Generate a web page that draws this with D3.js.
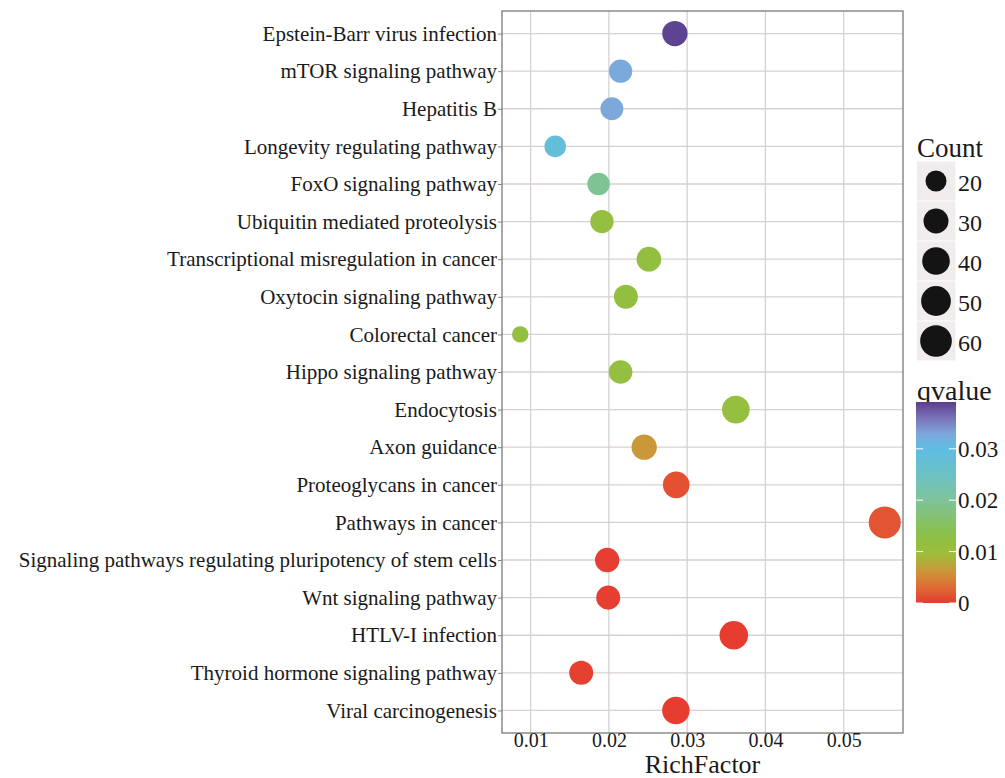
<!DOCTYPE html>
<html>
<head>
<meta charset="utf-8">
<script src="https://cdn.jsdelivr.net/npm/d3@7"></script>
<style>
  body { margin: 0; background: #fff; }
  text { font-family: "Liberation Serif", "Times New Roman", serif; fill: #1a1a1a; }
</style>
</head>
<body>
<script>
// KEGG enrichment data, top to bottom
const pathways = [
  'Epstein-Barr virus infection', 'mTOR signaling pathway', 'Hepatitis B',
  'Longevity regulating pathway', 'FoxO signaling pathway', 'Ubiquitin mediated proteolysis',
  'Transcriptional misregulation in cancer', 'Oxytocin signaling pathway', 'Colorectal cancer',
  'Hippo signaling pathway', 'Endocytosis', 'Axon guidance', 'Proteoglycans in cancer',
  'Pathways in cancer', 'Signaling pathways regulating pluripotency of stem cells',
  'Wnt signaling pathway', 'HTLV-I infection', 'Thyroid hormone signaling pathway',
  'Viral carcinogenesis'
]
const richFactor = [0.02843, 0.02149, 0.02038, 0.01314, 0.01868, 0.01911, 0.02511, 0.02217, 0.00867,
  0.02149, 0.03622, 0.02451, 0.02860, 0.05525, 0.01978, 0.01991, 0.03596, 0.01646, 0.02856]
const counts = [31, 25, 24, 21, 23, 25, 29, 27, 16, 26, 40, 31, 36, 62, 28, 27, 44, 27, 39]
const qvalues = [0.0388, 0.0326, 0.0328, 0.0282, 0.0195, 0.0114, 0.0117, 0.0117, 0.0114, 0.0115,
  0.0113, 0.0062, 0.0014, 0.0016, 0.0002, 0.0002, 0.0001, 0.0003, 0.0001]

const xTicks = [0.01, 0.02, 0.03, 0.04, 0.05]
const countBreaks = [20, 30, 40, 50, 60]
const qTicks = [0, 0.01, 0.02, 0.03]

const data = pathways.map((p, i) => ({ term: p, x: richFactor[i], count: counts[i], q: qvalues[i] }))

const width = 1005, height = 778
const panel = { left: 502, right: 903, top: 11, bottom: 733 }

const svg = d3.select('body').append('svg')
  .attr('width', width)
  .attr('height', height)

// scales
const ext = d3.extent(richFactor)
const pad = (ext[1] - ext[0]) * 0.05
const x = d3.scaleLinear().domain([ext[0] - pad, ext[1] + pad]).range([panel.left, panel.right])
const y = d3.scalePoint().domain(pathways).range([panel.top, panel.bottom]).padding(0.6)

const cMin = d3.min(counts), cMax = d3.max(counts)
const rScale = d3.scaleSqrt().domain([0, cMax - cMin]).range([8.2, 16])
const radius = c => rScale(c - cMin)

const qMax = 0.0391
const qStops = [0, 0.003, 0.006, 0.0095, 0.013, 0.02, 0.025, 0.03, 0.033, 0.036, qMax]
const qColors = ['#e63b30', '#df6a34', '#cd9539', '#9ebd3b', '#8cc045', '#7ec39a', '#6cc1c3',
  '#5ebde6', '#7ea6da', '#7a72b8', '#5b3e8c']
const color = d3.scaleLinear().domain(qStops).range(qColors).clamp(true)

// panel background + grid
svg.append('rect')
  .attr('x', panel.left).attr('y', panel.top)
  .attr('width', panel.right - panel.left).attr('height', panel.bottom - panel.top)
  .attr('fill', '#fff')

const grid = svg.append('g').attr('stroke', '#d8d1d1').attr('stroke-width', 1.3)
grid.selectAll('.vg').data(xTicks).enter().append('line')
  .attr('x1', d => x(d)).attr('x2', d => x(d))
  .attr('y1', panel.top).attr('y2', panel.bottom)
grid.selectAll('.hg').data(pathways).enter().append('line')
  .attr('x1', panel.left).attr('x2', panel.right)
  .attr('y1', d => y(d)).attr('y2', d => y(d))

// points
svg.append('g').selectAll('circle')
  .data(data)
  .enter()
  .append('circle')
  .attr('cx', d => x(d.x))
  .attr('cy', d => y(d.term))
  .attr('r', d => radius(d.count))
  .attr('fill', d => color(d.q))

// border
svg.append('rect')
  .attr('x', panel.left).attr('y', panel.top)
  .attr('width', panel.right - panel.left).attr('height', panel.bottom - panel.top)
  .attr('fill', 'none').attr('stroke', '#7a7a7a').attr('stroke-width', 1.3)

// axes
const xAxis = svg.append('g')
  .attr('transform', `translate(0,${panel.bottom})`)
  .call(d3.axisBottom(x).tickValues(xTicks).tickSize(4).tickPadding(-4).tickFormat(d3.format('.2f')))
xAxis.select('.domain').remove()
xAxis.selectAll('line').attr('stroke', '#808080')
xAxis.selectAll('text').attr('font-size', 20).attr('font-family', 'Liberation Serif').attr('fill', '#1a1a1a')

const yAxis = svg.append('g')
  .attr('transform', `translate(${panel.left},0)`)
  .call(d3.axisLeft(y).tickSize(4).tickPadding(1))
yAxis.select('.domain').remove()
yAxis.selectAll('line').attr('stroke', '#808080')
yAxis.selectAll('text').attr('font-size', 21).attr('font-family', 'Liberation Serif').attr('fill', '#1a1a1a')

svg.append('text')
  .attr('x', (panel.left + panel.right) / 2)
  .attr('y', 772.5)
  .attr('text-anchor', 'middle')
  .attr('font-size', 26)
  .text('RichFactor')

// Count legend
const lg = svg.append('g').attr('transform', 'translate(917, 0)')
lg.append('text').attr('x', 0).attr('y', 157).attr('font-size', 27).text('Count')
const keys = lg.selectAll('.key').data(countBreaks).enter().append('g')
  .attr('transform', (d, i) => `translate(0, ${161.5 + i * 40})`)
keys.append('rect')
  .attr('width', 38.5).attr('height', 39)
  .attr('fill', '#f1eded')
keys.append('circle')
  .attr('cx', 19).attr('cy', 19.5)
  .attr('r', d => radius(d))
  .attr('fill', '#141414')
keys.append('text')
  .attr('x', 41).attr('y', 29)
  .attr('font-size', 24)
  .text(d => d)

// qvalue colorbar
const barTop = 402, barBottom = 603, barX = 916, barW = 40
const qy = d3.scaleLinear().domain([0, qMax]).range([barBottom, barTop])
svg.append('text').attr('x', 917).attr('y', 400).attr('font-size', 28).text('qvalue')

const grad = svg.append('defs').append('linearGradient')
  .attr('id', 'qgrad').attr('x1', 0).attr('y1', 1).attr('x2', 0).attr('y2', 0)
grad.selectAll('stop').data(d3.range(0, 1.0001, 0.02)).enter().append('stop')
  .attr('offset', d => d)
  .attr('stop-color', d => color(d * qMax))
svg.append('rect')
  .attr('x', barX).attr('y', barTop)
  .attr('width', barW).attr('height', barBottom - barTop)
  .attr('fill', 'url(#qgrad)')

const qt = svg.append('g').selectAll('g').data(qTicks).enter().append('g')
  .attr('transform', d => `translate(0, ${qy(d)})`)
qt.append('line').attr('x1', barX).attr('x2', barX + 7).attr('stroke', '#fff').attr('stroke-width', 1)
qt.append('line').attr('x1', barX + barW - 7).attr('x2', barX + barW).attr('stroke', '#fff').attr('stroke-width', 1)
qt.append('text')
  .attr('x', barX + barW + 2)
  .attr('y', 8)
  .attr('font-size', 23)
  .text(d => d === 0 ? '0' : d3.format('.2f')(d))
</script>
</body>
</html>
